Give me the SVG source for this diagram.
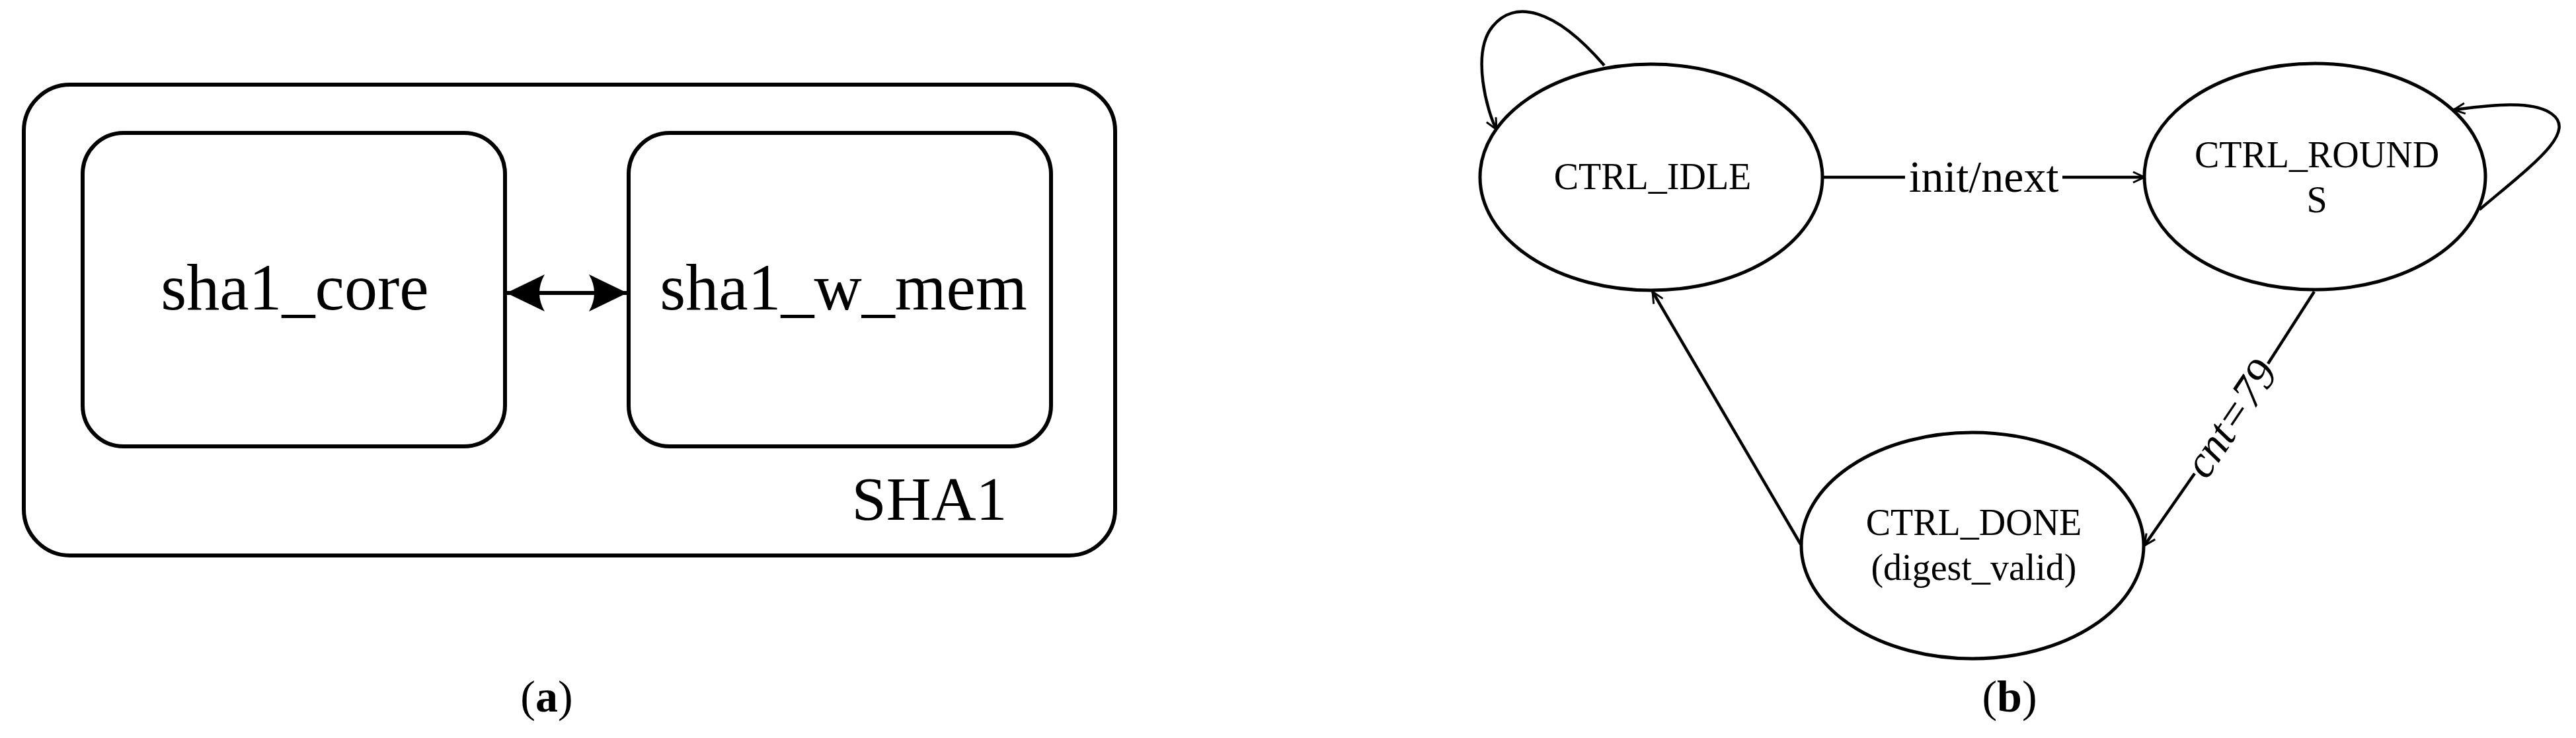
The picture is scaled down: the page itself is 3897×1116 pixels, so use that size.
<svg xmlns="http://www.w3.org/2000/svg" width="3897" height="1116" viewBox="0 0 3897 1116">
<style>
text{font-family:"Liberation Serif","Times New Roman",serif;fill:#000}
.box{fill:none;stroke:#000;stroke-width:6}
.st{fill:#fff;stroke:#000;stroke-width:5}
.ln{fill:none;stroke:#000;stroke-width:4.5}
</style>
<defs>
<marker id="open" viewBox="0 0 20 20" refX="19" refY="10" markerWidth="20" markerHeight="20" markerUnits="userSpaceOnUse" orient="auto">
<path d="M2,2 L19,10 L2,18" fill="none" stroke="#000" stroke-width="3"/>
</marker>
<marker id="solid" viewBox="0 0 60 60" refX="58" refY="30" markerWidth="60" markerHeight="60" markerUnits="userSpaceOnUse" orient="auto-start-reverse">
<path d="M0,2 Q16,30 0,58 L58,30 Z" fill="#000"/>
</marker>
</defs>
<rect width="3897" height="1116" fill="#fff"/>
<g id="sha1">
<rect class="box" x="36" y="128" width="1651" height="712" rx="70" ry="70"/>
<text x="1406" y="786" font-size="94" text-anchor="middle">SHA1</text>
</g>
<g id="sha1_core">
<rect class="box" x="125" y="201" width="639" height="474" rx="62" ry="62"/>
<text x="446" y="468" font-size="100" text-anchor="middle">sha1_core</text>
</g>
<g id="sha1_w_mem">
<rect class="box" x="951" y="201" width="639" height="474" rx="62" ry="62"/>
<text x="1276" y="468" font-size="100" text-anchor="middle">sha1_w_mem</text>
</g>
<text x="827" y="1076" font-size="68" text-anchor="middle">(<tspan font-weight="bold">a</tspan>)</text>
<g id="idle">
<ellipse class="st" cx="2498" cy="268" rx="259" ry="171"/>
<text x="2500" y="286" font-size="56" text-anchor="middle">CTRL_IDLE</text>
</g>
<g id="rounds">
<ellipse class="st" cx="3502" cy="267" rx="258" ry="171"/>
<text x="3505" y="253" font-size="56" text-anchor="middle">CTRL_ROUND</text>
<text x="3505" y="321" font-size="56" text-anchor="middle">S</text>
</g>
<g id="done">
<ellipse class="st" cx="2984" cy="825" rx="259" ry="171"/>
<text x="2986" y="809" font-size="56" text-anchor="middle">CTRL_DONE</text>
<text x="2986" y="877" font-size="56" text-anchor="middle">(digest_valid)</text>
</g>
<g id="connectors">
<line x1="766" y1="443" x2="949" y2="443" stroke="#000" stroke-width="6" marker-start="url(#solid)" marker-end="url(#solid)"/>
<path class="ln" d="M2427,99 C2350,10 2290,0 2258,40 C2225,80 2250,170 2264,196" marker-end="url(#open)"/>
<line class="ln" x1="2757" y1="268" x2="2882" y2="268"/>
<line class="ln" x1="3120" y1="268" x2="3244" y2="268" marker-end="url(#open)"/>
<text x="3001" y="290" font-size="68" text-anchor="middle">init/next</text>
<path class="ln" d="M3751,317 C3830,250 3900,200 3860,172 C3830,150 3760,160 3712,166" marker-end="url(#open)"/>
<line class="ln" x1="3501" y1="441" x2="3431" y2="550"/>
<line class="ln" x1="3320" y1="716" x2="3244" y2="825" marker-end="url(#open)"/>
<text transform="translate(3375,633) rotate(-56)" x="0" y="22" font-size="68" font-style="italic" text-anchor="middle">cnt=79</text>
<line class="ln" x1="2724" y1="823" x2="2500" y2="441" marker-end="url(#open)"/>
</g>
<text x="3040" y="1076" font-size="68" text-anchor="middle">(<tspan font-weight="bold">b</tspan>)</text>
</svg>
